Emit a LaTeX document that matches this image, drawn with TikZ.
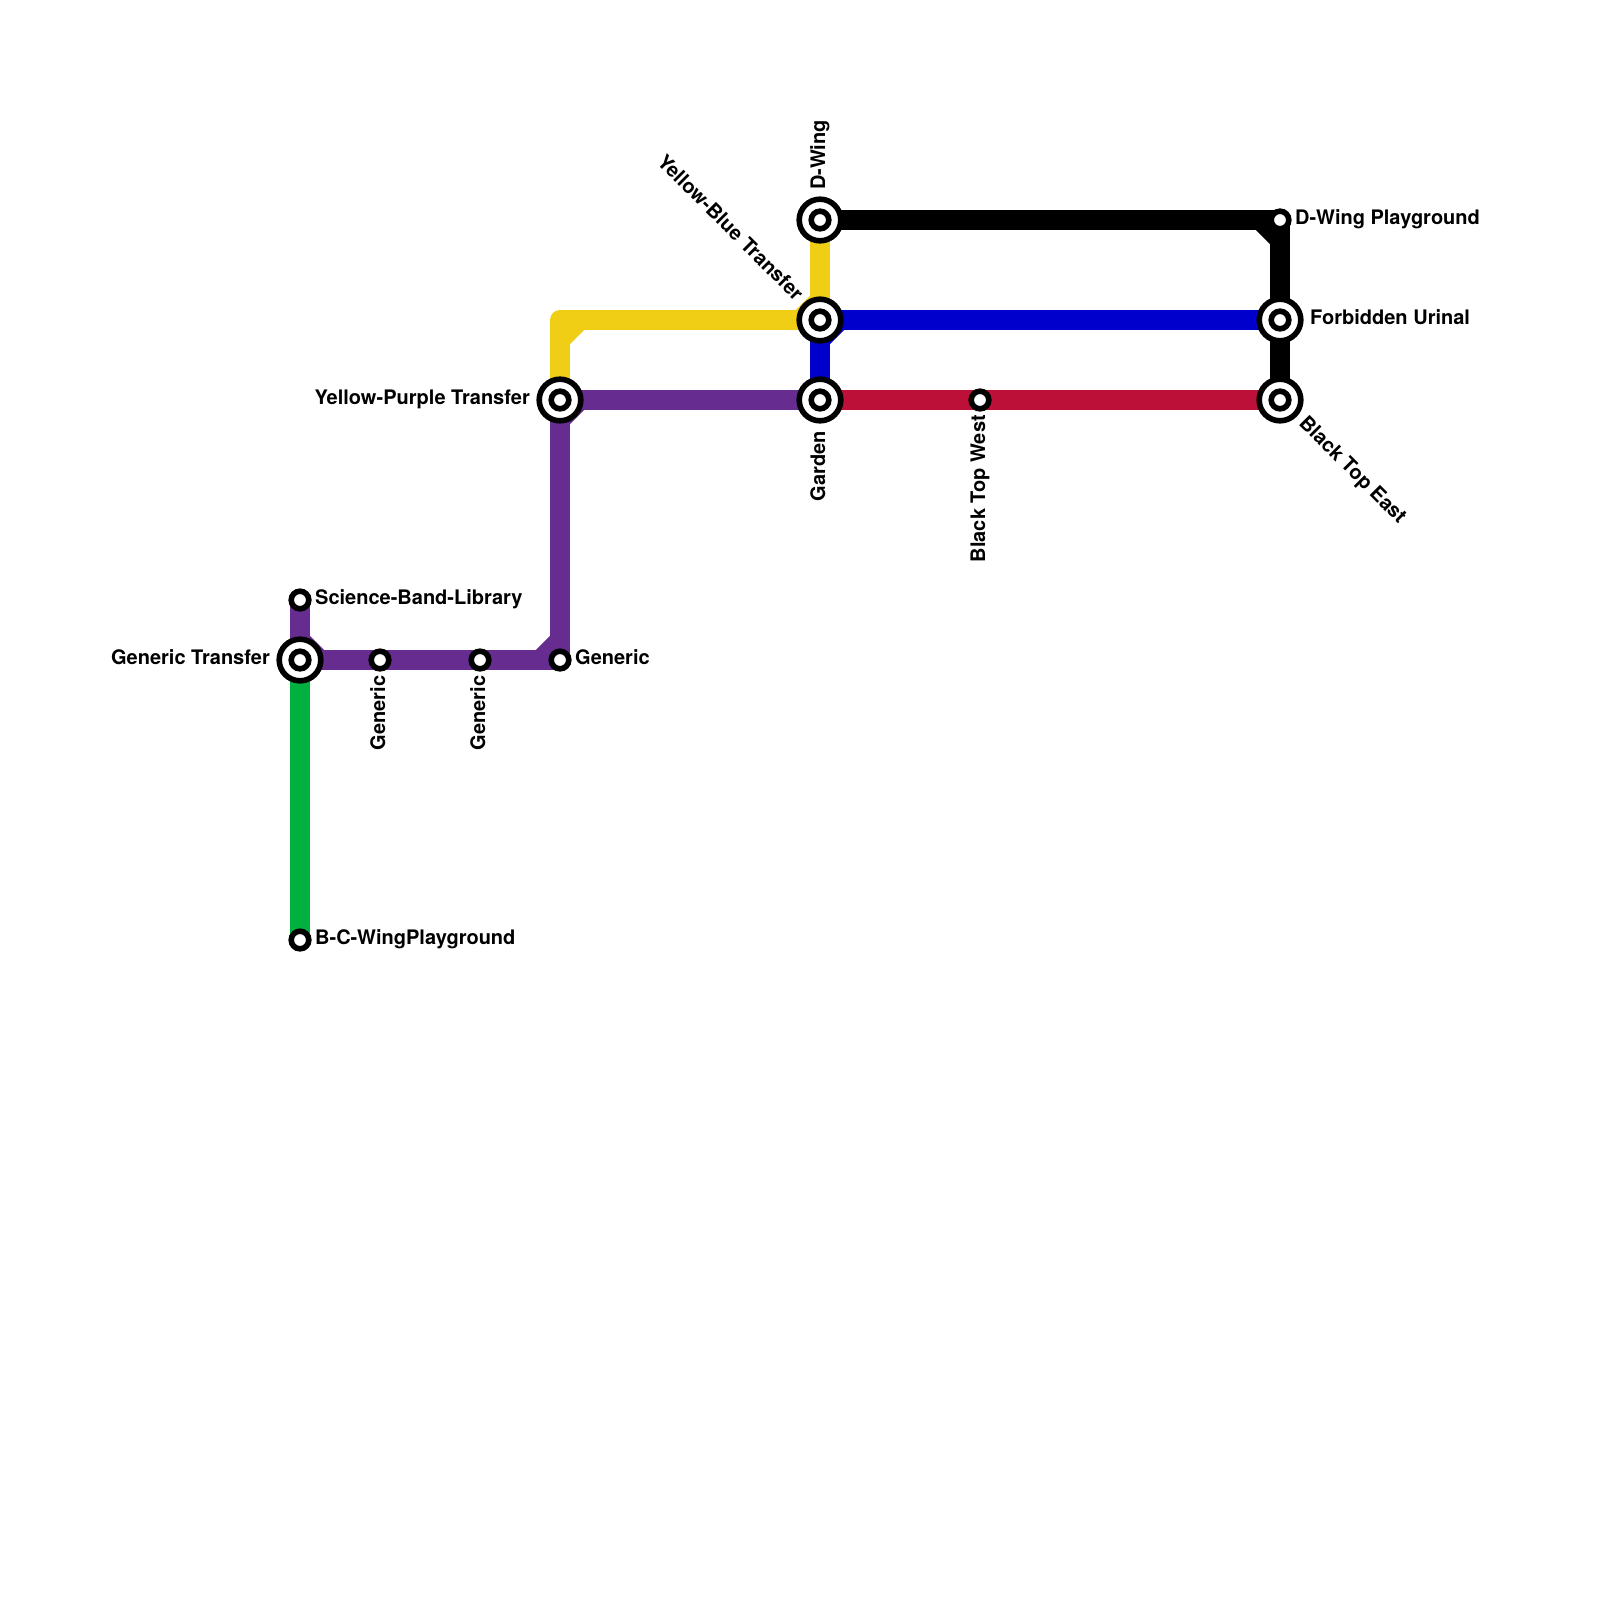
\documentclass[tikz,border=0pt]{standalone}
\usepackage{fontspec}
\setmainfont{TeX Gyre Heros}
\definecolor{cyellow}{HTML}{F0CE15}
\definecolor{cpurple}{HTML}{662C90}
\definecolor{cblue}{HTML}{0000CD}
\definecolor{cred}{HTML}{BD1038}
\definecolor{cgreen}{HTML}{00B140}
\tikzset{
 x=1pt,y=-1pt,
 track/.style={line width=20pt,line join=round,line cap=butt},
 lbl/.style={inner sep=0pt,font=\fontsize{20}{22}\selectfont\bfseries},
 halt/.style={circle,draw=black,fill=white,line width=5.6pt,minimum size=17.6pt,inner sep=0pt,outer sep=0pt},
 hub/.style={circle,draw=black,fill=white,line width=5.6pt,minimum size=41.6pt,inner sep=0pt,outer sep=0pt},
 hubcore/.style={circle,draw=black,fill=white,line width=5.6pt,minimum size=17.6pt,inner sep=0pt,outer sep=0pt},
}
\begin{document}
\begin{tikzpicture}
\useasboundingbox (0,0) rectangle (1600,1600);
\fill[white] (0,0) rectangle (1600,1600);
% anchor points of the stations
\coordinate (dw) at (820,220);
\coordinate (yb) at (820,320);
\coordinate (ga) at (820,400);
\coordinate (yp) at (560,400);
\coordinate (gt) at (300,660);
\coordinate (sb) at (300,600);
\coordinate (g1) at (380,660);
\coordinate (g2) at (480,660);
\coordinate (g3) at (560,660);
\coordinate (bc) at (300,940);
\coordinate (tw) at (980,400);
\coordinate (te) at (1280,400);
\coordinate (fu) at (1280,320);
\coordinate (dp) at (1280,220);
% corners
\coordinate (ycorner) at (yp|-yb);
% lines
\draw[track,cyellow] (dw) -- (yb) -- (ycorner) -- (yp);
\draw[track,cyellow] (560,340) -- (580,320);
\draw[track,cyellow] (800,320) -- (820,300);
\draw[track,cblue] (ga) -- (yb) -- (fu);
\draw[track,cblue] (820,340) -- (840,320);
\draw[track,cred] (ga) -- (tw) -- (te);
\draw[track,black] (dw) -- (dp) -- (fu) -- (te);
\draw[track,black] (1260,220) -- (1280,240);
\draw[track,cgreen] (gt) -- (bc);
\draw[track,cpurple] (ga) -- (yp) -- (g3) -- (g2) -- (g1) -- (gt) -- (sb);
\draw[track,cpurple] (560,420) -- (580,400);
\draw[track,cpurple] (540,660) -- (560,640);
\draw[track,cpurple] (300,640) -- (320,660);
% stations
\foreach \p in {dw,yb,ga,yp,gt,te,fu}{
  \node[hub] (hub\p) at (\p) {};
  \node[hubcore] (core\p) at (\p) {};
}
\foreach \p in {sb,g1,g2,g3,bc,tw,dp}{
  \node[halt] (stop\p) at (\p) {};
}
% labels
\node[lbl,anchor=base west,rotate=90] (ldw) at (825,190) {D-Wing};
\node[lbl,anchor=base east,rotate=-45] (lyb) at (795,302) {Yellow-Blue Transfer};
\node[lbl,anchor=base east,rotate=90] (lga) at (825,431) {Garden};
\node[lbl,anchor=base east] (lyp) at (530,404.6) {Yellow-Purple Transfer};
\node[lbl,anchor=base east] (lgt) at (270,664.7) {Generic Transfer};
\node[lbl,anchor=base west] (lsb) at (315,604.7) {Science-Band-Library};
\node[lbl,anchor=base east,rotate=90] (lg1) at (385,675.5) {Generic};
\node[lbl,anchor=base east,rotate=90] (lg2) at (485,675.5) {Generic};
\node[lbl,anchor=base west] (lg3) at (575,664.7) {Generic};
\node[lbl,anchor=base west] (lbc) at (315,944.7) {B-C-WingPlayground};
\node[lbl,anchor=base east,rotate=90] (ltw) at (985,415) {Black Top West};
\node[lbl,anchor=base west,rotate=-45] (lte) at (1298,424) {Black Top East};
\node[lbl,anchor=base west] (lfu) at (1310,324.7) {Forbidden Urinal};
\node[lbl,anchor=base west] (ldp) at (1295,224.7) {D-Wing Playground};
\end{tikzpicture}
\end{document}
